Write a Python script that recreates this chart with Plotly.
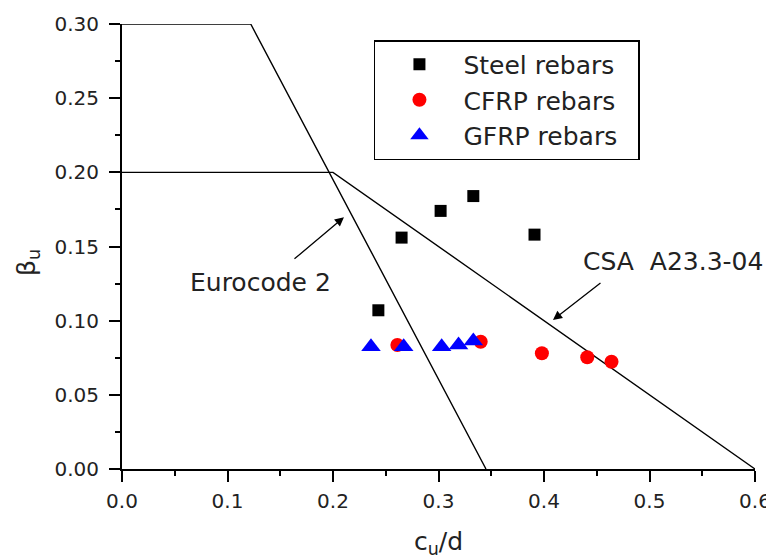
import plotly.graph_objects as go

# Design limit curves (c_u/d vs beta_u)
ec2_x = [0.0, 0.122, 0.345]
ec2_y = [0.30, 0.30, 0.0]
csa_x = [0.0, 0.2, 0.6]
csa_y = [0.20, 0.20, 0.0]

# Test results
steel_x = [0.243, 0.265, 0.302, 0.333, 0.391]
steel_y = [0.107, 0.156, 0.174, 0.184, 0.158]
cfrp_x = [0.261, 0.340, 0.398, 0.441, 0.464]
cfrp_y = [0.0836, 0.0858, 0.078, 0.0753, 0.0723]
gfrp_x = [0.236, 0.267, 0.303, 0.319, 0.333]
gfrp_y = [0.0825, 0.0825, 0.0825, 0.0836, 0.0863]

x_ticks = [0.0, 0.1, 0.2, 0.3, 0.4, 0.5, 0.6]
y_ticks = [0.00, 0.05, 0.10, 0.15, 0.20, 0.25, 0.30]

FONT = "DejaVu Sans"
TXT = "#222222"
PAD = "\u00a0\u00a0"  # keeps some room on the right of the legend box

fig = go.Figure()

for lx, ly in [(ec2_x, ec2_y), (csa_x, csa_y)]:
    fig.add_trace(go.Scatter(x=lx, y=ly, mode="lines", showlegend=False,
                             line=dict(color="black", width=1.4),
                             cliponaxis=False, hoverinfo="skip"))

fig.add_trace(go.Scatter(x=steel_x, y=steel_y, mode="markers", name="Steel rebars" + PAD,
                         legendgroup="a",
                         marker=dict(symbol="square", size=12, color="black"),
                         cliponaxis=False))
fig.add_trace(go.Scatter(x=cfrp_x, y=cfrp_y, mode="markers", name="CFRP rebars" + PAD,
                         legendgroup="b",
                         marker=dict(symbol="circle", size=14, color="#ff0000"),
                         cliponaxis=False))
fig.add_trace(go.Scatter(x=gfrp_x, y=gfrp_y, mode="markers", name="GFRP rebars" + PAD,
                         legendgroup="c",
                         marker=dict(symbol="triangle-up", size=17, color="#0000ff"),
                         cliponaxis=False))

# Pointer arrows to each design curve
fig.add_annotation(x=0.2104, y=0.1698, xref="x", yref="y", ax=-51, ay=43,
                   text="", showarrow=True, arrowhead=2, arrowsize=1.4,
                   arrowwidth=1.3, arrowcolor="black")
fig.add_annotation(x=0.4085, y=0.1005, xref="x", yref="y", ax=49, ay=-38,
                   text="", showarrow=True, arrowhead=2, arrowsize=1.4,
                   arrowwidth=1.3, arrowcolor="black")
fig.add_annotation(x=0.131, y=0.126, xref="x", yref="y", text="Eurocode 2",
                   showarrow=False, font=dict(family=FONT, size=25, color=TXT))
fig.add_annotation(x=0.522, y=0.14, xref="x", yref="y", text="CSA  A23.3-04",
                   showarrow=False, font=dict(family=FONT, size=25, color=TXT))

# y-axis title, placed slightly below the axis middle
fig.add_annotation(x=-0.1485, y=0.465, xref="paper", yref="paper",
                   xanchor="center", yanchor="middle",
                   text="β<sub>u</sub>", textangle=-90, showarrow=False,
                   font=dict(family=FONT, size=25, color=TXT))

axis_common = dict(showline=True, linecolor="black", linewidth=2,
                   ticks="outside", ticklen=11, tickwidth=1.5, tickcolor="black",
                   showgrid=False, zeroline=False, mirror=False,
                   tickfont=dict(family=FONT, size=20, color=TXT),
                   automargin=False, ticklabeloverflow="allow")

fig.update_xaxes(range=[0, 0.6], tickvals=x_ticks,
                 ticktext=[f"{v:.1f}" for v in x_ticks],
                 ticklabelstandoff=2,
                 minor=dict(dtick=0.05, ticklen=5, tickwidth=1.5, tickcolor="black",
                            ticks="outside", showgrid=False),
                 title=dict(text="c<sub>u</sub>/d", standoff=20,
                            font=dict(family=FONT, size=25, color=TXT)),
                 **axis_common)
fig.update_yaxes(range=[0, 0.30], tickvals=y_ticks,
                 ticktext=[f"{v:.2f}" for v in y_ticks],
                 ticklabelstandoff=6,
                 minor=dict(dtick=0.025, ticklen=5, tickwidth=1.5, tickcolor="black",
                            ticks="outside", showgrid=False),
                 **axis_common)

fig.update_layout(
    width=766, height=560,
    margin=dict(l=122, r=11, t=24, b=91),
    paper_bgcolor="white", plot_bgcolor="white",
    legend=dict(x=0.398, y=0.964, xanchor="left", yanchor="top",
                bordercolor="black", borderwidth=1.5, bgcolor="white",
                font=dict(family=FONT, size=25, color=TXT),
                tracegroupgap=0, itemwidth=78),
)

fig.write_html("out.html")
